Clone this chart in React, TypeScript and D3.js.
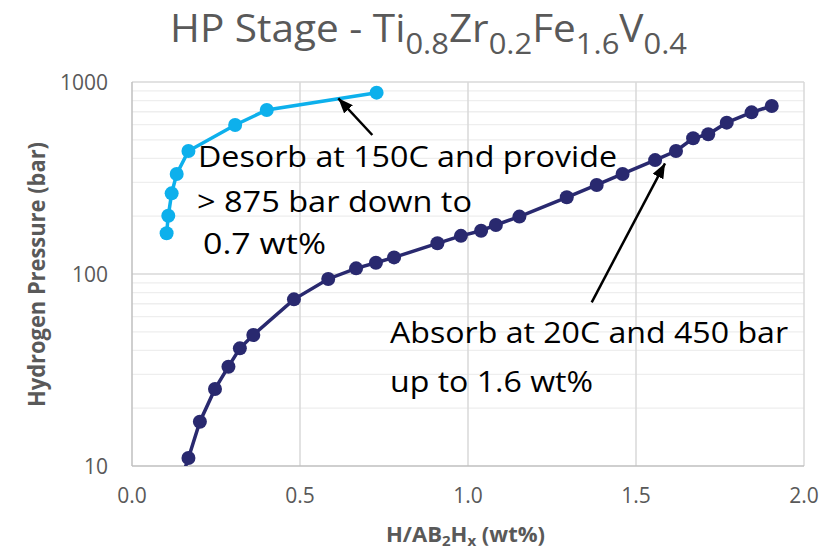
import React from "react";
import * as d3 from "d3";

const desorbX = [0.103, 0.108, 0.118, 0.133, 0.168, 0.307, 0.401, 0.728];
const desorbP = [163, 201, 263, 332, 437, 597, 715, 880];

const absorbX = [0.13, 0.168, 0.202, 0.247, 0.287, 0.321, 0.361, 0.482, 0.584, 0.667, 0.726, 0.78, 0.909, 0.979, 1.039, 1.083, 1.153, 1.294, 1.383, 1.46, 1.557, 1.619, 1.67, 1.715, 1.77, 1.844, 1.904];
const absorbP = [7, 11.0, 17.0, 25.2, 32.9, 41.0, 48.1, 73.8, 94.2, 107, 114.5, 122, 144.5, 158, 168, 180, 199, 251, 291, 332, 392, 437, 509, 534, 614, 695, 750];

const xTicks = [0, 0.5, 1.0, 1.5, 2.0];
const yTicks = [10, 100, 1000];

const W = 821;
const H = 549;
const PL = 132, PR = 804, PT = 82, PB = 466;

export default function App() {
  const x = d3.scaleLinear().domain([0, 2]).range([PL, PR]);
  const y = d3.scaleLog().domain([10, 1000]).range([PB, PT]);

  const desorb = desorbX.map((v, i) => [v, desorbP[i]] as [number, number]);
  const absorb = absorbX.map((v, i) => [v, absorbP[i]] as [number, number]);
  const line = d3.line<[number, number]>().x(d => x(d[0])).y(d => y(d[1]));

  const minor: number[] = [];
  [10, 100].forEach(dec => {
    for (let k = 2; k <= 9; k++) minor.push(dec * k);
  });

  const grey = "#595959";
  const font = "'Open Sans', sans-serif";
  const absorbColor = "#29296f";
  const desorbColor = "#0db0ec";
  const fmt = d3.format(".1f");

  return (
    <svg width={W} height={H} style={{ display: "block", position: "absolute", left: 0, top: 0, background: "#fff" }}>
      <defs>
        <clipPath id="plotclip">
          <rect x={PL} y={PT - 10} width={PR - PL + 10} height={PB - PT + 10} />
        </clipPath>
        <marker id="arrow" markerUnits="userSpaceOnUse" markerWidth="16" markerHeight="12" refX="15" refY="6" orient="auto">
          <path d="M0,0 L15,6 L0,12 Z" fill="#000" />
        </marker>
      </defs>
      <rect x={0} y={0} width={W} height={H} fill="#fff" />

      {/* minor gridlines */}
      {minor.map(v => (
        <line key={"m" + v} x1={PL} x2={PR} y1={y(v)} y2={y(v)} stroke="#eeeeee" strokeWidth={1.3} />
      ))}
      {/* major horizontal */}
      {yTicks.slice(1).map(v => (
        <line key={"h" + v} x1={PL} x2={PR} y1={y(v)} y2={y(v)} stroke="#d9d9d9" strokeWidth={1.5} />
      ))}
      {/* vertical gridlines */}
      {xTicks.slice(1).map(v => (
        <line key={"v" + v} x1={x(v)} x2={x(v)} y1={PT} y2={PB} stroke="#d9d9d9" strokeWidth={1.5} />
      ))}
      {/* axes */}
      <line x1={PL} x2={PL} y1={PT} y2={PB} stroke="#bfbfbf" strokeWidth={1.5} />
      <line x1={PL} x2={PR} y1={PB} y2={PB} stroke="#bfbfbf" strokeWidth={1.5} />

      {/* tick labels */}
      {yTicks.map(v => (
        <text key={"yt" + v} x={108} y={y(v) + 7.5} textAnchor="end" fontFamily={font} fontSize={21} fill={grey}>{v}</text>
      ))}
      {xTicks.map(v => (
        <text key={"xt" + v} x={x(v)} y={503} textAnchor="middle" fontFamily={font} fontSize={21} fill={grey}>{fmt(v)}</text>
      ))}

      {/* series */}
      <g clipPath="url(#plotclip)">
        <path d={line(absorb) || ""} fill="none" stroke={absorbColor} strokeWidth={3.5} />
        {absorb.map((d, i) => (
          <circle key={"a" + i} cx={x(d[0])} cy={y(d[1])} r={7} fill={absorbColor} />
        ))}
        <path d={line(desorb) || ""} fill="none" stroke={desorbColor} strokeWidth={3.5} />
        {desorb.map((d, i) => (
          <circle key={"d" + i} cx={x(d[0])} cy={y(d[1])} r={7} fill={desorbColor} />
        ))}
      </g>

      {/* title */}
      <text x={170} y={42} fontFamily={font} fontSize={38} fill={grey} textLength={517} lengthAdjust="spacingAndGlyphs">
        HP Stage - Ti
        <tspan fontSize={29} dy={12}>0.8</tspan>
        <tspan dy={-12}>Zr</tspan>
        <tspan fontSize={29} dy={12}>0.2</tspan>
        <tspan dy={-12}>Fe</tspan>
        <tspan fontSize={29} dy={12}>1.6</tspan>
        <tspan dy={-12}>V</tspan>
        <tspan fontSize={29} dy={12}>0.4</tspan>
      </text>

      {/* axis titles */}
      <text transform={`translate(45,274.5) rotate(-90)`} textAnchor="middle" fontFamily={font} fontWeight="bold" fontSize={23} fill={grey} textLength={265} lengthAdjust="spacingAndGlyphs">
        Hydrogen Pressure (bar)
      </text>
      <text x={465.5} y={542} textAnchor="middle" fontFamily={font} fontWeight="bold" fontSize={20.5} fill={grey} textLength={159} lengthAdjust="spacingAndGlyphs">
        H/AB<tspan fontSize={14} dy={4}>2</tspan><tspan dy={-4}>H</tspan><tspan fontSize={14} dy={4}>x</tspan><tspan dy={-4}> (wt%)</tspan>
      </text>

      {/* annotations */}
      <g fontFamily={font} fontSize={30} fill="#000">
        <text x={198} y={166.7} textLength={419} lengthAdjust="spacingAndGlyphs">Desorb at 150C and provide</text>
        <text x={197} y={211.7} textLength={275} lengthAdjust="spacingAndGlyphs">&gt; 875 bar down to</text>
        <text x={203} y={254} textLength={123} lengthAdjust="spacingAndGlyphs">0.7 wt%</text>
        <text x={390} y={343.3} textLength={398} lengthAdjust="spacingAndGlyphs">Absorb at 20C and 450 bar</text>
        <text x={390} y={391.7} textLength={203} lengthAdjust="spacingAndGlyphs">up to 1.6 wt%</text>
      </g>

      {/* arrows */}
      <line x1={372.3} y1={135} x2={338.3} y2={98.3} stroke="#000" strokeWidth={2.5} markerEnd="url(#arrow)" />
      <line x1={591.7} y1={302.3} x2={665} y2={163.3} stroke="#000" strokeWidth={2.5} markerEnd="url(#arrow)" />
    </svg>
  );
}
